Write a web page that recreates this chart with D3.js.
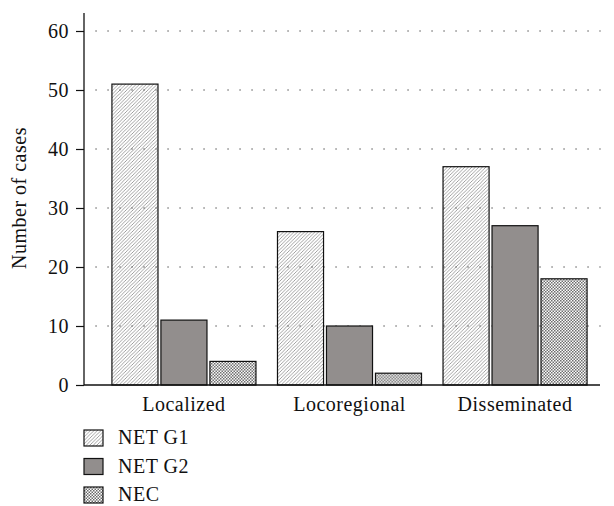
<!DOCTYPE html>
<html>
  <head>
    <meta charset="utf-8"/>
    <title>Number of cases</title>
    <style>
      body { margin: 0; background: #fff; }
    </style>
  </head>
  <body>
    <div id="chart"></div>

<script src="https://d3js.org/d3.v7.min.js"></script>
<script>
  const categories = ["Localized", "Locoregional", "Disseminated"];
  const series = ["NET G1", "NET G2", "NEC"];
  const netG1 = [51, 26, 37];
  const netG2 = [11, 10, 27];
  const nec = [4, 2, 18];
  const yTicks = [0, 10, 20, 30, 40, 50, 60];

  const values = [netG1, netG2, nec];
  const width = 614;
  const height = 506;
  const font = "Liberation Serif";
  const fontSize = 20;

  const svg = d3.select("#chart").append("svg")
      .attr("width", width)
      .attr("height", height);

  const defs = svg.append("defs");

  // diagonal hatch, transparent background
  const hatch = defs.append("pattern")
      .attr("id", "hatch")
      .attr("patternUnits", "userSpaceOnUse")
      .attr("width", 3.5)
      .attr("height", 3.5);
  hatch.append("path")
      .attr("d", "M-1,1 l2,-2 M0,3.5 l3.5,-3.5 M2.5,4.5 l2,-2")
      .attr("stroke", "#555")
      .attr("stroke-width", 0.55);

  // checker pattern
  const check = defs.append("pattern")
      .attr("id", "check")
      .attr("patternUnits", "userSpaceOnUse")
      .attr("width", 3)
      .attr("height", 3);
  check.append("rect").attr("width", 3).attr("height", 3).attr("fill", "#fff");
  check.append("rect").attr("width", 1.5).attr("height", 1.5).attr("fill", "#6a6a6a");
  check.append("rect").attr("x", 1.5).attr("y", 1.5).attr("width", 1.5).attr("height", 1.5).attr("fill", "#6a6a6a");

  const fills = ["url(#hatch)", "#928e8d", "url(#check)"];

  const y = d3.scaleLinear()
      .domain([0, 60])
      .range([385, 31]);

  const x0 = d3.scaleBand()
      .domain(categories)
      .range([102, 597])
      .paddingInner(0.13)
      .paddingOuter(0.06);

  const x1 = d3.scaleBand()
      .domain(series)
      .range([0, x0.bandwidth()])
      .paddingInner(0.06);

  // dotted grid
  svg.append("g")
    .selectAll("line")
    .data(yTicks.filter(d => d > 0))
    .join("line")
      .attr("x1", 96)
      .attr("x2", 600)
      .attr("y1", d => y(d))
      .attr("y2", d => y(d))
      .attr("stroke", "#555")
      .attr("stroke-width", 1.3)
      .attr("stroke-linecap", "round")
      .attr("stroke-dasharray", "0.1 11.9");

  // bars
  const groups = svg.append("g")
    .selectAll("g")
    .data(categories)
    .join("g")
      .attr("transform", d => `translate(${x0(d)},0)`);

  groups.selectAll("rect")
    .data((c, i) => series.map((s, j) => ({ s, v: values[j][i], j })))
    .join("rect")
      .attr("x", d => x1(d.s))
      .attr("y", d => y(d.v))
      .attr("width", x1.bandwidth())
      .attr("height", d => y(0) - y(d.v))
      .attr("fill", d => fills[d.j])
      .attr("stroke", "#111")
      .attr("stroke-width", 1.2);

  // y axis
  const yAxis = svg.append("g")
      .attr("transform", "translate(84,0)")
      .call(d3.axisLeft(y).tickValues(yTicks).tickSize(8).tickPadding(7));
  yAxis.select(".domain").remove();
  yAxis.selectAll("line").attr("stroke", "#111").attr("stroke-width", 1.2);
  yAxis.selectAll("text")
      .attr("fill", "#111")
      .attr("font-family", font)
      .attr("font-size", fontSize)
      .attr("letter-spacing", 0.5);
  yAxis.append("line")
      .attr("x1", 0).attr("x2", 0)
      .attr("y1", 13).attr("y2", y(0))
      .attr("stroke", "#111").attr("stroke-width", 1.3);

  // x axis baseline
  svg.append("line")
      .attr("x1", 84)
      .attr("x2", 600)
      .attr("y1", y(0))
      .attr("y2", y(0))
      .attr("stroke", "#111")
      .attr("stroke-width", 1.3);

  // category labels
  svg.append("g")
    .selectAll("text")
    .data(categories)
    .join("text")
      .attr("x", d => x0(d) + x0.bandwidth() / 2)
      .attr("y", 411)
      .attr("text-anchor", "middle")
      .attr("font-family", font)
      .attr("font-size", fontSize)
      .attr("letter-spacing", 0.5)
      .attr("fill", "#111")
      .text(d => d);

  // y label
  svg.append("text")
      .attr("transform", "translate(26,198) rotate(-90)")
      .attr("text-anchor", "middle")
      .attr("font-family", font)
      .attr("font-size", fontSize)
      .attr("letter-spacing", 0.5)
      .attr("fill", "#111")
      .text("Number of cases");

  // legend
  const legend = svg.append("g")
    .selectAll("g")
    .data(series)
    .join("g")
      .attr("transform", (d, i) => `translate(84,${430 + i * 28.5})`);

  legend.append("rect")
      .attr("width", 19)
      .attr("height", 16)
      .attr("fill", (d, i) => fills[i])
      .attr("stroke", "#111")
      .attr("stroke-width", 1.2);

  legend.append("text")
      .attr("x", 34)
      .attr("y", 14)
      .attr("font-family", font)
      .attr("font-size", fontSize)
      .attr("letter-spacing", 0.5)
      .attr("fill", "#111")
      .text(d => d);
</script>
  </body>
</html>
